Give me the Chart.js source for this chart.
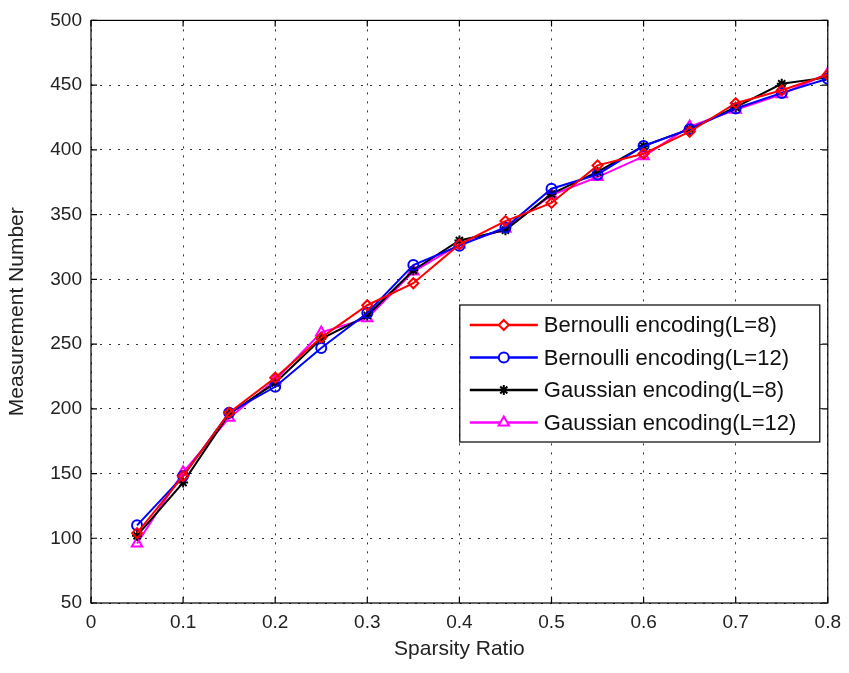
<!DOCTYPE html>
<html>
<head>
<meta charset="utf-8">
<title>Measurement Number vs Sparsity Ratio</title>
<script src="https://cdn.jsdelivr.net/npm/chart.js@4.4.1/dist/chart.umd.min.js"></script>
<style>
  html, body { margin: 0; padding: 0; background: #fff; }
  #wrap { position: relative; width: 849px; height: 673px; }
</style>
</head>
<body>
<div id="wrap"><canvas id="mycanvas" width="849" height="673"></canvas></div>
<script>
// sparsity ratios on the x axis
var ratio = [0.05, 0.10, 0.15, 0.20, 0.25, 0.30, 0.35, 0.40, 0.45, 0.50, 0.55, 0.60, 0.65, 0.70, 0.75, 0.80];

// measurement numbers per encoding
var bernoulliL8  = [104, 148, 197, 224, 255, 280, 297, 327, 345, 359, 388, 397, 414, 436, 446, 458];
var bernoulliL12 = [110, 148, 197, 217, 247, 274, 311, 326, 340, 370, 381, 403, 416, 432, 444, 455];
var gaussianL8   = [102, 143, 196, 220, 254, 272, 307, 330, 338, 366, 383, 403, 416, 433, 451, 456];
var gaussianL12  = [96, 151, 193, 222, 259, 270, 306, 327, 339, 365, 379, 395, 418, 431, 443, 459];

var seriesNames = ["Bernoulli encoding(L=8)", "Bernoulli encoding(L=12)", "Gaussian encoding(L=8)", "Gaussian encoding(L=12)"];

function toPoints(ys) {
	var pts = [];
	for (var i in ys) {
		pts.push({x: ratio[i], y: ys[i]});
	}
	return pts;
}

function makeSet(label, values, color, style, radius) {
	return {
		label: label,
		data: toPoints(values),
		fill: false,
		tension: 0,
		borderColor: color,
		backgroundColor: color,
		borderWidth: 2,
		pointStyle: style,
		pointRadius: radius,
		pointBorderColor: color,
		pointBorderWidth: 2,
		pointBackgroundColor: "rgba(255,255,255,0)"
	};
}

var chartdata = {
	datasets: [
		makeSet(seriesNames[0], bernoulliL8, "#ff0000", "rectRot", 5),
		makeSet(seriesNames[1], bernoulliL12, "#0000ff", "circle", 5),
		makeSet(seriesNames[2], gaussianL8, "#000000", "star", 5),
		makeSet(seriesNames[3], gaussianL12, "#ff00ff", "triangle", 6)
	]
};

var font = "'Liberation Sans', Arial, sans-serif";

// box around the plot with inward tick marks on all sides
var frameBox = {
	id: "frameBox",
	afterDatasetsDraw: function(chart) {
		var ctx = chart.ctx, a = chart.chartArea;
		var xs = chart.scales.x, ys = chart.scales.y;
		ctx.save();
		ctx.strokeStyle = "#000";
		ctx.lineWidth = 1.2;
		ctx.strokeRect(a.left, a.top, a.right - a.left, a.bottom - a.top);
		ctx.beginPath();
		xs.ticks.forEach(function(t) {
			var px = xs.getPixelForValue(t.value);
			ctx.moveTo(px, a.bottom); ctx.lineTo(px, a.bottom - 6);
			ctx.moveTo(px, a.top); ctx.lineTo(px, a.top + 6);
		});
		ys.ticks.forEach(function(t) {
			var py = ys.getPixelForValue(t.value);
			ctx.moveTo(a.left, py); ctx.lineTo(a.left + 6, py);
			ctx.moveTo(a.right, py); ctx.lineTo(a.right - 6, py);
		});
		ctx.stroke();
		ctx.restore();
	},
	afterDraw: function(chart) {
		// legend box inside the plot, lower right
		var ctx = chart.ctx, a = chart.chartArea;
		var right = a.right - 8, left = right - 360;
		var top = 305, rowH = 32.5;
		var bottom = top + 137;
		ctx.save();
		ctx.fillStyle = "#fff";
		ctx.fillRect(left, top, right - left, bottom - top);
		ctx.strokeStyle = "#000";
		ctx.lineWidth = 1.2;
		ctx.strokeRect(left, top, right - left, bottom - top);
		ctx.font = "22px " + font;
		ctx.textBaseline = "middle";
		chart.data.datasets.forEach(function(ds, i) {
			var cy = top + 20 + i * rowH;
			ctx.strokeStyle = ds.borderColor;
			ctx.lineWidth = 2.5;
			ctx.beginPath();
			ctx.moveTo(left + 10, cy);
			ctx.lineTo(left + 78, cy);
			ctx.stroke();
			ctx.fillStyle = "#fff";
			ctx.lineWidth = 2;
			Chart.helpers.drawPoint(ctx, {
				pointStyle: ds.pointStyle,
				radius: ds.pointRadius,
				borderWidth: 2,
				rotation: 0
			}, left + 44, cy);
			ctx.fillStyle = "#111";
			ctx.fillText(ds.label, left + 84, cy + 1);
		});
		ctx.restore();
	}
};

var ctx = document.getElementById("mycanvas");

var lineGraph = new Chart(ctx, {
	type: "line",
	data: chartdata,
	plugins: [frameBox],
	options: {
		responsive: false,
		animation: false,
		layout: { padding: { left: 0, top: 18, right: 16, bottom: 0 } },
		plugins: {
			legend: { display: false },
			tooltip: { enabled: false }
		},
		scales: {
			x: {
				type: "linear",
				min: 0,
				max: 0.8,
				ticks: {
					stepSize: 0.1,
					padding: 8,
					color: "#222",
					font: { family: font, size: 19 }
				},
				grid: { color: "#333", lineWidth: 1, drawTicks: false },
				border: { display: false, dash: [2, 7] },
				title: {
					display: true,
					text: "Sparsity Ratio",
					color: "#222",
					font: { family: font, size: 21 },
					padding: { top: 0, bottom: 11 }
				},
				afterFit: function(s) { s.height = 70; }
			},
			y: {
				min: 50,
				max: 500,
				ticks: {
					stepSize: 50,
					padding: 9,
					color: "#222",
					font: { family: font, size: 19 }
				},
				grid: { color: "#333", lineWidth: 1, drawTicks: false },
				border: { display: false, dash: [2, 7] },
				title: {
					display: true,
					text: "Measurement Number",
					color: "#222",
					font: { family: font, size: 21 },
					padding: { top: 5, bottom: 0 }
				},
				afterFit: function(s) { s.width = 91; }
			}
		}
	}
});
</script>
</body>
</html>
